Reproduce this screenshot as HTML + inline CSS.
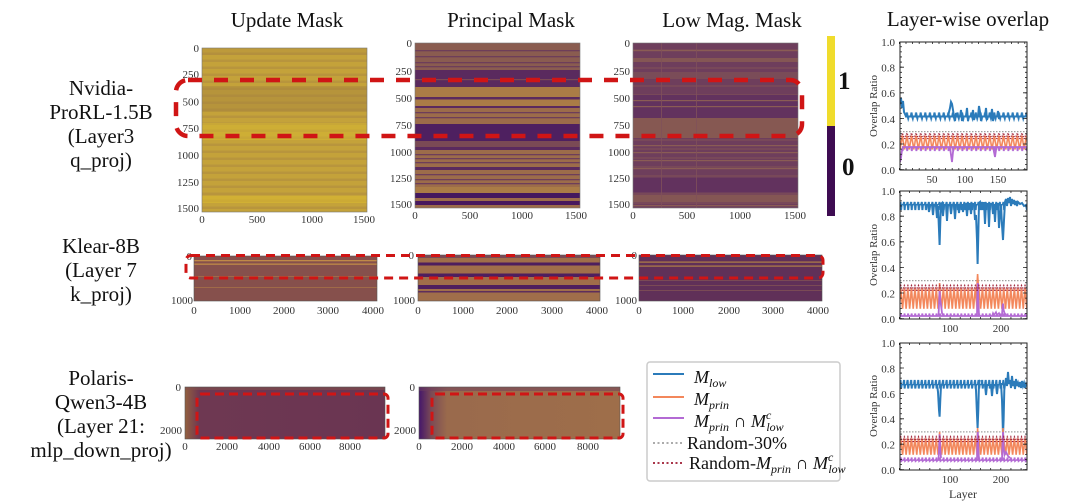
<!DOCTYPE html>
<html><head><meta charset="utf-8"><style>
html,body{margin:0;padding:0;background:#fff;}
svg{display:block;}
text{font-family:"Liberation Serif","DejaVu Serif",serif;}
</style></head><body>
<svg width="1080" height="503" viewBox="0 0 1080 503" xmlns="http://www.w3.org/2000/svg">
<defs>
<pattern id="s1" patternUnits="userSpaceOnUse" x="0" y="48" width="10" height="7"><rect x="0" y="4.5" width="10" height="2.5" fill="#9a7444" opacity="0.28"/></pattern>
<pattern id="s3" patternUnits="userSpaceOnUse" x="0" y="43" width="10" height="9"><rect x="0" y="6" width="10" height="2" fill="#8a5a54" opacity="0.35"/></pattern>
<linearGradient id="g7" x1="0" x2="1" y1="0" y2="0"><stop offset="0" stop-color="#94603f"/><stop offset="0.07" stop-color="#6e3852"/><stop offset="1" stop-color="#6a3552"/></linearGradient>
<linearGradient id="g8" x1="0" x2="1" y1="0" y2="0"><stop offset="0" stop-color="#44166a"/><stop offset="0.06" stop-color="#7a4a56"/><stop offset="0.14" stop-color="#9a6a4c"/><stop offset="1" stop-color="#9e6e4a"/></linearGradient>
<pattern id="b1" patternUnits="userSpaceOnUse" x="900" y="0" width="4.6" height="503"><polyline points="0,116.5 1.6,116.5 2.3,112.5 3,116.5 3.6,118.5 4.1,116.5 4.6,116.5" fill="none" stroke="#2b7bba" stroke-width="2"/></pattern>
<pattern id="o1" patternUnits="userSpaceOnUse" x="900" y="0" width="4.6" height="503"><polyline points="0,149.5 2.3,135.5 4.6,149.5" fill="none" stroke="#f3875b" stroke-width="1.6"/></pattern>
<pattern id="p1" patternUnits="userSpaceOnUse" x="900" y="0" width="4.6" height="503"><polyline points="0,147 2,147 2.6,151 3.2,147 4.6,147" fill="none" stroke="#b36ad4" stroke-width="1.8"/></pattern>
<pattern id="r1" patternUnits="userSpaceOnUse" x="900" y="0" width="4.6" height="503"><polyline points="0,139 2.3,133 4.6,139" fill="none" stroke="#9e1b32" stroke-width="1.3" stroke-dasharray="1.2 1.2"/></pattern>
<pattern id="b2" patternUnits="userSpaceOnUse" x="899" y="0" width="3.55" height="503"><polyline points="0,205 1,204 1.5,202 2.1,210 2.6,205 3.55,205" fill="none" stroke="#2b7bba" stroke-width="2"/></pattern>
<pattern id="o2" patternUnits="userSpaceOnUse" x="899" y="0" width="3.55" height="503"><polyline points="0,308.8 1.775,288.3 3.55,308.8" fill="none" stroke="#f3875b" stroke-width="1.6"/></pattern>
<pattern id="p2" patternUnits="userSpaceOnUse" x="899" y="0" width="3.55" height="503"><polyline points="0,316 1.6,316 2,313.5 2.4,316 3.55,316" fill="none" stroke="#b36ad4" stroke-width="1.8"/></pattern>
<pattern id="r2" patternUnits="userSpaceOnUse" x="899" y="0" width="3.55" height="503"><polyline points="0,290.8 1.775,285.7 3.55,290.8" fill="none" stroke="#9e1b32" stroke-width="1.3" stroke-dasharray="1.2 1.2"/></pattern>
<pattern id="b3" patternUnits="userSpaceOnUse" x="899" y="0" width="3.55" height="503"><polyline points="0,385 1,383 1.5,380 2.1,388.5 2.6,385 3.55,385" fill="none" stroke="#2b7bba" stroke-width="2"/></pattern>
<pattern id="o3" patternUnits="userSpaceOnUse" x="899" y="0" width="3.55" height="503"><polyline points="0,454.8 1.775,438.3 3.55,454.8" fill="none" stroke="#f3875b" stroke-width="1.6"/></pattern>
<pattern id="p3" patternUnits="userSpaceOnUse" x="899" y="0" width="3.55" height="503"><polyline points="0,460 1.6,460 2,457.5 2.4,461 3.55,460" fill="none" stroke="#b36ad4" stroke-width="1.8"/></pattern>
<pattern id="r3" patternUnits="userSpaceOnUse" x="899" y="0" width="3.55" height="503"><polyline points="0,442 1.775,437 3.55,442" fill="none" stroke="#9e1b32" stroke-width="1.3" stroke-dasharray="1.2 1.2"/></pattern>
<clipPath id="c1"><rect x="900" y="42" width="127" height="128"/></clipPath>
<clipPath id="c2"><rect x="900" y="191" width="127" height="128"/></clipPath>
<clipPath id="c3"><rect x="900" y="343" width="127" height="127"/></clipPath>
</defs>

<g font-size="21" fill="#111" text-anchor="middle">
<text x="287" y="27">Update Mask</text>
<text x="511" y="27">Principal Mask</text>
<text x="732" y="27">Low Mag. Mask</text>
<text x="968" y="26">Layer-wise overlap</text>
</g>

<g font-size="21" fill="#111" text-anchor="middle">
<text x="101" y="95">Nvidia-</text>
<text x="101" y="119">ProRL-1.5B</text>
<text x="101" y="143">(Layer3</text>
<text x="101" y="167">q_proj)</text>
<text x="101" y="253">Klear-8B</text>
<text x="101" y="277">(Layer 7</text>
<text x="101" y="301">k_proj)</text>
<text x="101" y="385">Polaris-</text>
<text x="101" y="409">Qwen3-4B</text>
<text x="101" y="433">(Layer 21:</text>
<text x="101" y="457">mlp_down_proj)</text>
</g>

<g>
<rect x="202" y="48" width="165" height="164" fill="#c4a23a"/>
<rect x="202" y="48" width="165" height="164" fill="url(#s1)"/>
<rect x="202" y="48" width="165" height="7" fill="#a88440" opacity="0.25"/>
<rect x="202" y="86" width="165" height="26" fill="#9e7a40" opacity="0.35"/>
<rect x="202" y="123" width="165" height="17" fill="#dcbc30" opacity="0.45"/>
<rect x="202" y="196" width="165" height="7" fill="#dcbc30" opacity="0.55"/>
<rect x="202" y="48" width="165" height="164" fill="none" stroke="#777" stroke-width="0.6"/>
</g>
<g>
<rect x="415" y="43" width="165" height="165" fill="#9c6c4a"/>
<rect x="415" y="43" width="165" height="27" fill="#8a5c50"/>
<g fill="#5a2a5e">
<rect x="415" y="70" width="165" height="17"/>
<rect x="415" y="97" width="165" height="2.5"/>
<rect x="415" y="106" width="165" height="2"/>
<rect x="415" y="124" width="165" height="17" fill="#4e2060"/>
<rect x="415" y="147" width="165" height="3"/>
<rect x="415" y="167" width="165" height="3"/>
<rect x="415" y="193" width="165" height="5" fill="#44185e"/>
<rect x="415" y="201" width="165" height="4" fill="#48185e"/>
</g>
<g fill="#aa7c46">
<rect x="415" y="87" width="165" height="10"/>
<rect x="415" y="99.5" width="165" height="6.5"/>
<rect x="415" y="187" width="165" height="6"/>
</g>
<rect x="415" y="141" width="165" height="6" fill="#7a4a55"/>
<g fill="#6e3e5a">
<rect x="415" y="50" width="165" height="1.3"/><rect x="415" y="56" width="165" height="1.3"/>
<rect x="415" y="62" width="165" height="1.3"/><rect x="415" y="66" width="165" height="1.3"/>
<rect x="415" y="112" width="165" height="1.3"/><rect x="415" y="117" width="165" height="1.3"/>
<rect x="415" y="154" width="165" height="1.3"/><rect x="415" y="158" width="165" height="1.3"/>
<rect x="415" y="162" width="165" height="1.3"/><rect x="415" y="174" width="165" height="1.3"/>
<rect x="415" y="179" width="165" height="1.3"/><rect x="415" y="183" width="165" height="1.3"/>
</g>
<rect x="415" y="79" width="165" height="1.2" fill="#7a4a55"/>
<rect x="415" y="43" width="165" height="165" fill="none" stroke="#777" stroke-width="0.6"/>
</g>
<g>
<rect x="633" y="43" width="165" height="165" fill="#6e3e5c"/>
<rect x="633" y="43" width="165" height="165" fill="url(#s3)"/>
<rect x="633" y="58" width="165" height="4" fill="#845654"/>
<rect x="633" y="72" width="165" height="7" fill="#7a4c58"/>
<rect x="633" y="95" width="165" height="23" fill="#62325e"/>
<rect x="633" y="118" width="165" height="20" fill="#865852"/>
<rect x="633" y="178" width="165" height="14" fill="#62325e"/>
<rect x="633" y="195" width="165" height="7" fill="#845654"/>
<g fill="#8a5c54">
<rect x="633" y="50" width="165" height="1.2"/><rect x="633" y="100" width="165" height="1.2"/>
<rect x="633" y="106" width="165" height="1.2"/><rect x="633" y="145" width="165" height="1.2"/>
<rect x="633" y="152" width="165" height="1.2"/><rect x="633" y="160" width="165" height="1.2"/>
<rect x="633" y="168" width="165" height="1.2"/><rect x="633" y="205" width="165" height="1.2"/>
</g>
<rect x="661" y="43" width="0.8" height="165" fill="#80505a"/>
<rect x="696" y="43" width="0.8" height="165" fill="#80505a"/>
<rect x="633" y="43" width="165" height="165" fill="none" stroke="#777" stroke-width="0.6"/>
</g>
<rect x="827" y="36" width="8" height="90" fill="#f0dc2c"/>
<rect x="827" y="126" width="8" height="90" fill="#3e0c52"/>
<text x="838" y="89" font-size="25" font-weight="bold" fill="#111">1</text>
<text x="842" y="175" font-size="25" font-weight="bold" fill="#111">0</text>

<g font-size="11" fill="#333" text-anchor="end">
<text x="199" y="52">0</text><text x="199" y="78">250</text><text x="199" y="105.5">500</text>
<text x="199" y="132">750</text><text x="199" y="159">1000</text><text x="199" y="186">1250</text><text x="199" y="212">1500</text>
<text x="412" y="47">0</text><text x="412" y="75">250</text><text x="412" y="102">500</text>
<text x="412" y="129">750</text><text x="412" y="156">1000</text><text x="412" y="182">1250</text><text x="412" y="208">1500</text>
<text x="630" y="47">0</text><text x="630" y="75">250</text><text x="630" y="102">500</text>
<text x="630" y="129">750</text><text x="630" y="156">1000</text><text x="630" y="182">1250</text><text x="630" y="208">1500</text>
</g>
<g font-size="11" fill="#333" text-anchor="middle">
<text x="202" y="223">0</text><text x="257" y="223">500</text><text x="312" y="223">1000</text><text x="364" y="223">1500</text>
<text x="415" y="219">0</text><text x="470" y="219">500</text><text x="522" y="219">1000</text><text x="576" y="219">1500</text>
<text x="633" y="219">0</text><text x="687" y="219">500</text><text x="740" y="219">1000</text><text x="795" y="219">1500</text>
</g>

<g>
<rect x="194" y="256" width="183" height="45" fill="#86504c"/>
<rect x="194" y="260" width="183" height="1.3" fill="#c08a48"/>
<rect x="194" y="263.5" width="183" height="1.3" fill="#c08a48"/>
<rect x="194" y="276" width="183" height="1" fill="#a06a48"/>
<rect x="194" y="287" width="183" height="1" fill="#a06a48"/>
<rect x="194" y="256" width="183" height="45" fill="none" stroke="#555" stroke-width="0.6"/>

<rect x="418" y="255" width="182" height="46" fill="#a06e4a"/>
<rect x="418" y="255" width="182" height="3" fill="#7a4a55"/>
<rect x="418" y="262.5" width="182" height="3" fill="#4e1e5e"/>
<rect x="418" y="273.5" width="182" height="3.5" fill="#4e1e5e"/>
<rect x="418" y="285" width="182" height="4" fill="#4e1e5e"/>
<rect x="418" y="291" width="182" height="1.5" fill="#5e2e5c"/>
<rect x="418" y="255" width="182" height="46" fill="none" stroke="#555" stroke-width="0.6"/>

<rect x="639" y="255" width="183" height="46" fill="#603058"/>
<rect x="639" y="261.5" width="183" height="1.2" fill="#b08048"/>
<rect x="639" y="265.5" width="183" height="1.2" fill="#b08048"/>
<rect x="639" y="280" width="183" height="1" fill="#7a4a55"/>
<rect x="639" y="285" width="183" height="1" fill="#7a4a55"/>
<rect x="639" y="290" width="183" height="1" fill="#7a4a55"/>
<rect x="639" y="255" width="183" height="46" fill="none" stroke="#555" stroke-width="0.6"/>
</g>
<g font-size="11" fill="#333" text-anchor="end">
<text x="192" y="260">0</text><text x="193" y="304">1000</text>
<text x="414" y="259">0</text><text x="415" y="304">1000</text>
<text x="637" y="259">0</text><text x="637" y="304">1000</text>
</g>
<g font-size="11" fill="#333" text-anchor="middle">
<text x="194" y="314">0</text><text x="240" y="314">1000</text><text x="284" y="314">2000</text><text x="328" y="314">3000</text><text x="373" y="314">4000</text>
<text x="418" y="314">0</text><text x="463" y="314">1000</text><text x="507" y="314">2000</text><text x="552" y="314">3000</text><text x="597" y="314">4000</text>
<text x="639" y="314">0</text><text x="683" y="314">1000</text><text x="729" y="314">2000</text><text x="773" y="314">3000</text><text x="818" y="314">4000</text>
</g>

<rect x="185" y="387" width="200" height="52" fill="url(#g7)"/>
<rect x="185" y="387" width="200" height="3" fill="#80504c" opacity="0.6"/>
<rect x="185" y="387" width="200" height="52" fill="none" stroke="#555" stroke-width="0.6"/>
<rect x="419" y="387" width="201" height="52" fill="url(#g8)"/>
<rect x="419" y="387" width="201" height="4" fill="#6e3e5e" opacity="0.5"/>
<rect x="419" y="387" width="201" height="52" fill="none" stroke="#555" stroke-width="0.6"/>
<g font-size="11" fill="#333" text-anchor="end">
<text x="181" y="391">0</text><text x="182" y="434">2000</text>
<text x="415" y="391">0</text><text x="416" y="434">2000</text>
</g>
<g font-size="11" fill="#333" text-anchor="middle">
<text x="185" y="450">0</text><text x="227" y="450">2000</text><text x="269" y="450">4000</text><text x="310" y="450">6000</text><text x="350" y="450">8000</text>
<text x="419" y="450">0</text><text x="462" y="450">2000</text><text x="504" y="450">4000</text><text x="545" y="450">6000</text><text x="588" y="450">8000</text>
</g>

<g fill="none" stroke="#d01515">
<rect x="176" y="80" width="626" height="56" rx="12" stroke-width="4.5" stroke-dasharray="14 12"/>
<rect x="186" y="255.5" width="637" height="22.5" rx="5" stroke-width="3" stroke-dasharray="9 6"/>
<rect x="197" y="394" width="191" height="44" rx="4" stroke-width="3" stroke-dasharray="9 5"/>
<rect x="432" y="394" width="191" height="44" rx="4" stroke-width="3" stroke-dasharray="9 5"/>
</g>

<rect x="647" y="362" width="193" height="119" rx="3" fill="#fff" stroke="#ccc" stroke-width="1.5"/>
<line x1="653" y1="374" x2="684" y2="374" stroke="#2b7bba" stroke-width="2"/>
<line x1="653" y1="397" x2="684" y2="397" stroke="#f3875b" stroke-width="2"/>
<line x1="653" y1="418" x2="684" y2="418" stroke="#b36ad4" stroke-width="2"/>
<line x1="653" y1="443" x2="684" y2="443" stroke="#a0a0a0" stroke-width="1.8" stroke-dasharray="2 2.5"/>
<line x1="653" y1="463" x2="684" y2="463" stroke="#9e1b32" stroke-width="1.8" stroke-dasharray="2 2.5"/>
<g font-size="18" fill="#111">
<text x="694" y="383"><tspan font-style="italic">M</tspan><tspan font-size="12" dy="4" font-style="italic">low</tspan></text>
<text x="694" y="405"><tspan font-style="italic">M</tspan><tspan font-size="12" dy="4" font-style="italic">prin</tspan></text>
<text x="694" y="427"><tspan font-style="italic">M</tspan><tspan font-size="12" dy="4" font-style="italic">prin</tspan><tspan dy="-4"> ∩ </tspan><tspan font-style="italic">M</tspan><tspan font-size="12" dy="-8" font-style="italic">c</tspan><tspan font-size="12" dx="-5" dy="12" font-style="italic">low</tspan></text>
<text x="687" y="449">Random-30%</text>
<text x="689" y="469">Random-<tspan font-style="italic">M</tspan><tspan font-size="12" dy="4" font-style="italic">prin</tspan><tspan dy="-4"> ∩ </tspan><tspan font-style="italic">M</tspan><tspan font-size="12" dy="-8" font-style="italic">c</tspan><tspan font-size="12" dx="-5" dy="12" font-style="italic">low</tspan></text>
</g>

<g clip-path="url(#c1)">
<line x1="900" y1="131.6" x2="1027" y2="131.6" stroke="#a0a0a0" stroke-width="1.2" stroke-dasharray="1.5 1.5"/>
<rect x="905" y="100" width="122" height="30" fill="url(#b1)"/>
<polyline points="900,104 901,98 902,108 903,101 904,112 905,114 906,116.5" fill="none" stroke="#2b7bba" stroke-width="2"/>
<polyline points="948,116.5 949,112 950,108 951,102 952,104 953,110 954,116.5 955,121 956,113 957,116.5 960,116.5 961,110 962,121 963,116.5 966,116.5 967,108 968,121 969,116.5 972,116.5 973,110 974,120 975,116.5 978,116.5 979,106 980,112 981,121 982,116.5 985,116.5 986,108 987,120 988,116.5 991,116.5 992,109 993,121 994,116.5 997,116.5 998,111 999,119 1000,116.5" fill="none" stroke="#2b7bba" stroke-width="2"/>
<rect x="900" y="130" width="127" height="25" fill="url(#o1)"/>
<rect x="902" y="140" width="125" height="15" fill="url(#p1)"/>
<polyline points="900,162 901,158 902,150 903,147" fill="none" stroke="#b36ad4" stroke-width="1.8"/>
<polyline points="950,147 951,155 952,162 953,152 954,147" fill="none" stroke="#b36ad4" stroke-width="1.8"/>
<polyline points="993,147 994,152 995,157 996,150 997,147" fill="none" stroke="#b36ad4" stroke-width="1.8"/>
<rect x="900" y="128" width="127" height="14" fill="url(#r1)"/>
</g>
<rect x="900" y="42" width="127" height="128" fill="none" stroke="#222" stroke-width="1"/>
<g stroke="#222" fill="none">
<line x1="901" y1="170" x2="901" y2="42" stroke-width="2" stroke-dasharray="0.8 4.32"/>
<line x1="902" y1="170" x2="902" y2="42" stroke-width="4" stroke-dasharray="0.8 24.8"/>
<line x1="1026" y1="170" x2="1026" y2="42" stroke-width="2" stroke-dasharray="0.8 4.32"/>
<line x1="1025" y1="170" x2="1025" y2="42" stroke-width="4" stroke-dasharray="0.8 24.8"/>
<line x1="899" y1="169" x2="1027" y2="169" stroke-width="2" stroke-dasharray="0.8 5.8"/>
<line x1="899" y1="43" x2="1027" y2="43" stroke-width="2" stroke-dasharray="0.8 5.8"/>
</g>
<g font-size="11" fill="#333" text-anchor="end">
<text x="895" y="46">1.0</text><text x="895" y="71.6">0.8</text><text x="895" y="97.2">0.6</text>
<text x="895" y="122.8">0.4</text><text x="895" y="148.4">0.2</text><text x="895" y="174">0.0</text>
</g>
<g font-size="11" fill="#333" text-anchor="middle">
<text x="932" y="183">50</text><text x="965" y="183">100</text><text x="998" y="183">150</text>
</g>
<text transform="translate(877,106) rotate(-90)" font-size="11" fill="#333" text-anchor="middle">Overlap Ratio</text>

<g clip-path="url(#c2)">
<line x1="900" y1="280.6" x2="1027" y2="280.6" stroke="#a0a0a0" stroke-width="1.2" stroke-dasharray="1.5 1.5"/>
<rect x="899" y="195" width="105" height="20" fill="url(#b2)"/>
<polyline points="928,205 929,212 930,205 932,205 933,215 934,205 936,206 937,218 938,206 939,230 939.6,245 940.3,222 941,204 942,203 943,216 944,205 946,205 947,221 948,205 950,205 951,214 952,206 954,205 955,219 956,205 958,205 959,213 960,205 962,205 963,212 964,205 966,204 967,216 968,204 970,204 971,214 972,204 974,204 975,220 976,215 977,240 977.6,264 978.3,235 979,203 980,202 981,210 982,203 984,203 985,224 986,204 988,204 989,227 990,204 992,204 993,214 994,204 995,222 996,204 998,204 999,228 1000,214 1001,205 1002,225 1003,240 1004,220 1005,202 1006,199 1007,206 1008,198 1009,203 1010,197 1011,206 1012,199 1013,204 1014,200 1015,205 1016,201 1017,206 1018,202 1020,204 1022,203 1024,206 1026,205 1027,210" fill="none" stroke="#2b7bba" stroke-width="2"/>
<rect x="899" y="284" width="128" height="28" fill="url(#o2)"/>
<polyline points="939,300 939.6,283 940.3,300" fill="none" stroke="#f3875b" stroke-width="1.6"/>
<polyline points="976,295 977,285 977.6,274 978.3,285 979,300" fill="none" stroke="#f3875b" stroke-width="1.6"/>
<rect x="899" y="310" width="128" height="9" fill="url(#p2)"/>
<polyline points="938.5,316 939.2,300 939.6,291 940.3,300 941,305 942,313 943,315" fill="none" stroke="#b36ad4" stroke-width="1.8"/>
<polyline points="977,316 977.4,290 977.8,283 978.3,300 979,315" fill="none" stroke="#b36ad4" stroke-width="1.8"/>
<polyline points="992,316 993,313 994,315 996,312 997,315 999,313 1000,316" fill="none" stroke="#b36ad4" stroke-width="1.5"/>
<polyline points="1002,316 1002.5,306 1003,303.6 1003.6,310 1004.5,313 1006,315" fill="none" stroke="#b36ad4" stroke-width="1.8"/>
<rect x="899" y="283" width="128" height="10" fill="url(#r2)"/>
</g>
<rect x="900" y="191" width="127" height="128" fill="none" stroke="#222" stroke-width="1"/>
<g stroke="#222" fill="none">
<line x1="901" y1="319" x2="901" y2="191" stroke-width="2" stroke-dasharray="0.8 4.32"/>
<line x1="902" y1="319" x2="902" y2="191" stroke-width="4" stroke-dasharray="0.8 24.8"/>
<line x1="1026" y1="319" x2="1026" y2="191" stroke-width="2" stroke-dasharray="0.8 4.32"/>
<line x1="1025" y1="319" x2="1025" y2="191" stroke-width="4" stroke-dasharray="0.8 24.8"/>
<line x1="899" y1="318" x2="1027" y2="318" stroke-width="2" stroke-dasharray="0.8 9.34"/>
<line x1="899" y1="192" x2="1027" y2="192" stroke-width="2" stroke-dasharray="0.8 9.34"/>
</g>
<g font-size="11" fill="#333" text-anchor="end">
<text x="895" y="195">1.0</text><text x="895" y="220.6">0.8</text><text x="895" y="246.2">0.6</text>
<text x="895" y="271.8">0.4</text><text x="895" y="297.4">0.2</text><text x="895" y="323">0.0</text>
</g>
<g font-size="11" fill="#333" text-anchor="middle">
<text x="950" y="332">100</text><text x="1001" y="332">200</text>
</g>
<text transform="translate(877,255) rotate(-90)" font-size="11" fill="#333" text-anchor="middle">Overlap Ratio</text>

<g clip-path="url(#c3)">
<line x1="900" y1="431.9" x2="1027" y2="431.9" stroke="#a0a0a0" stroke-width="1.2" stroke-dasharray="1.5 1.5"/>
<rect x="899" y="374" width="105" height="20" fill="url(#b3)"/>
<polyline points="937,384 938,392 939,410 939.6,416.7 940.3,400 941,386 942,384" fill="none" stroke="#2b7bba" stroke-width="2"/>
<polyline points="975,382 976,390 977,415 977.6,428 978.3,410 979,382 980,380" fill="none" stroke="#2b7bba" stroke-width="2"/>
<polyline points="985,385 986,395 987,385 991,385 992,396 993,385 996,385 997,394 998,385" fill="none" stroke="#2b7bba" stroke-width="2"/>
<polyline points="1001,383 1002,400 1003,434.4 1003.6,420 1004.3,390 1005,384 1006,378 1007,386 1008,372 1009,384 1010,380 1011,388 1012,376 1013,386 1014,381 1015,389 1016,379 1017,386 1018,383 1019,387 1020,382 1021,388 1022,381 1023,386 1024,383 1025,388 1026,384 1027,386" fill="none" stroke="#2b7bba" stroke-width="2"/>
<rect x="899" y="434" width="128" height="25" fill="url(#o3)"/>
<polyline points="939,445 939.6,431.9 940.3,445" fill="none" stroke="#f3875b" stroke-width="1.6"/>
<polyline points="977,445 977.6,428 978.3,445" fill="none" stroke="#f3875b" stroke-width="1.6"/>
<polyline points="1002.4,445 1003,428 1003.7,445" fill="none" stroke="#f3875b" stroke-width="1.6"/>
<rect x="899" y="454" width="128" height="12" fill="url(#p3)"/>
<polyline points="938.5,460 939.2,445 939.6,434.4 940.3,450 941,458" fill="none" stroke="#b36ad4" stroke-width="1.8"/>
<polyline points="977,460 977.4,440 977.8,431.9 978.4,450 979,459" fill="none" stroke="#b36ad4" stroke-width="1.8"/>
<polyline points="1002,460 1002.6,440 1003.1,431.9 1003.7,448 1004.5,455 1006,452 1008,456 1010,458" fill="none" stroke="#b36ad4" stroke-width="1.8"/>
<rect x="899" y="434" width="128" height="10" fill="url(#r3)"/>
</g>
<rect x="900" y="343" width="127" height="127" fill="none" stroke="#222" stroke-width="1"/>
<g stroke="#222" fill="none">
<line x1="901" y1="470" x2="901" y2="343" stroke-width="2" stroke-dasharray="0.8 4.28"/>
<line x1="902" y1="470" x2="902" y2="343" stroke-width="4" stroke-dasharray="0.8 24.6"/>
<line x1="1026" y1="470" x2="1026" y2="343" stroke-width="2" stroke-dasharray="0.8 4.28"/>
<line x1="1025" y1="470" x2="1025" y2="343" stroke-width="4" stroke-dasharray="0.8 24.6"/>
<line x1="899" y1="469" x2="1027" y2="469" stroke-width="2" stroke-dasharray="0.8 9.34"/>
<line x1="899" y1="344" x2="1027" y2="344" stroke-width="2" stroke-dasharray="0.8 9.34"/>
</g>
<g font-size="11" fill="#333" text-anchor="end">
<text x="895" y="347">1.0</text><text x="895" y="372.4">0.8</text><text x="895" y="397.8">0.6</text>
<text x="895" y="423.2">0.4</text><text x="895" y="448.6">0.2</text><text x="895" y="474">0.0</text>
</g>
<g font-size="11" fill="#333" text-anchor="middle">
<text x="950" y="483">100</text><text x="1001" y="483">200</text>
<text x="963" y="498" font-size="12">Layer</text>
</g>
<text transform="translate(877,406) rotate(-90)" font-size="11" fill="#333" text-anchor="middle">Overlap Ratio</text>
</svg>
</body></html>
